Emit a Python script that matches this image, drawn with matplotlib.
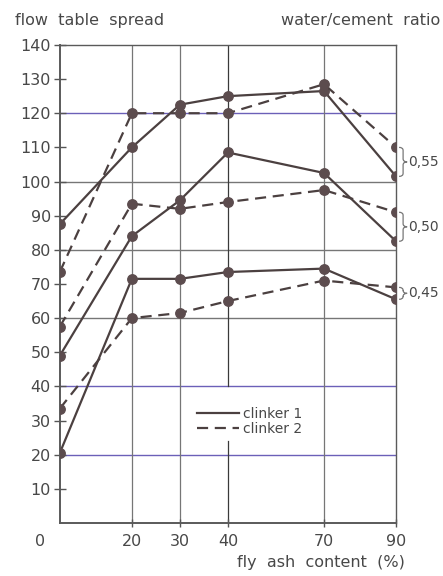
import numpy as np
import matplotlib
matplotlib.use("Agg")
import matplotlib.pyplot as plt
from matplotlib.path import Path
from matplotlib.patches import PathPatch
from matplotlib.transforms import blended_transform_factory

# fly ash content (%) and flow table spread values
fly_ash = [0, 20, 30, 40, 70, 90]
ratios = ["0,55", "0,50", "0,45"]
clinker1 = {
    "0,55": [87.5, 110, 122.5, 125, 126.5, 101.5],
    "0,50": [49, 84, 94.5, 108.5, 102.5, 82.5],
    "0,45": [20.5, 71.5, 71.5, 73.5, 74.5, 65.5],
}
clinker2 = {
    "0,55": [73.5, 120, 120, 120, 128.5, 110],
    "0,50": [57.5, 93.5, 92, 94, 97.5, 91],
    "0,45": [33.5, 60, 61.5, 65, 71, 69],
}
y_ticks = list(range(10, 150, 10))
x_ticks = [20, 30, 40, 70, 90]

# uneven horizontal spacing of the original drawing
ash_pos = [0, 3, 5, 7, 11, 14]


def fwd(x):
    return np.interp(x, fly_ash, ash_pos)


def inv(x):
    return np.interp(x, ash_pos, fly_ash)


LINE = "#4b4040"
MARK = "#5c4c4e"
GRID = "#767676"
PURPLE = "#6b60b8"
TXT = "#484848"
FS = 11.5

plt.rcParams["font.family"] = ["DejaVu Sans"]

fig = plt.figure(figsize=(4.43, 5.76), dpi=100)
ax = fig.add_axes([0.135, 0.092, 0.759, 0.830])
ax.set_xscale("function", functions=(fwd, inv))

for r in ratios:
    ax.plot(fly_ash, clinker1[r], "-", color=LINE, lw=1.6, marker="o",
            ms=6.8, mfc=MARK, mec=MARK, zorder=4)
    ax.plot(fly_ash, clinker2[r], "--", color=LINE, lw=1.6, marker="o",
            ms=6.8, mfc=MARK, mec=MARK, dashes=(5, 3), zorder=4)

ax.set_xlim(0, 90)
ax.set_ylim(0, 140)

# grid lines
for y in [20, 40, 60, 80, 100, 120]:
    col = PURPLE if y in (20, 40, 120) else GRID
    ax.axhline(y, color=col, lw=1.0, zorder=1)
for x in [20, 30, 70]:
    ax.axvline(x, color=GRID, lw=0.9, zorder=1)
# the 40 % line is interrupted by the legend
ax.plot([40, 40], [0, 24], color="#3a3a3a", lw=0.9, zorder=1)
ax.plot([40, 40], [40, 140], color="#3a3a3a", lw=0.9, zorder=1)

for s in ax.spines.values():
    s.set_color("#5a5a5a")
    s.set_linewidth(1.0)
ax.spines["left"].set_linewidth(1.4)
ax.spines["bottom"].set_linewidth(1.4)

ax.set_yticks(y_ticks)
ax.set_yticklabels([str(v) for v in y_ticks])
ax.set_xticks(x_ticks)
ax.set_xticklabels([str(v) for v in x_ticks])
ax.tick_params(axis="y", direction="inout", length=9, width=1.0,
               colors="#555555", labelcolor=TXT, labelsize=FS, pad=2)
ax.tick_params(axis="x", direction="inout", length=6, width=1.0,
               colors="#555555", labelcolor=TXT, labelsize=FS, pad=5)
ax.minorticks_off()
ax.annotate("0", xy=(0, 0), xytext=(-20, -18), textcoords="offset pixels",
            ha="center", va="center", fontsize=FS, color=TXT)

# braces with water/cement ratio labels
tr = blended_transform_factory(ax.transAxes, ax.transData)
for r in ratios:
    y0 = min(clinker1[r][-1], clinker2[r][-1])
    y1 = max(clinker1[r][-1], clinker2[r][-1])
    ym = (y0 + y1) / 2
    x0, w, d = 1.009, 0.024, 0.9
    verts = [(x0, y0), (x0 + w / 2, y0), (x0 + w / 2, y0 + d),
             (x0 + w / 2, ym - d),
             (x0 + w / 2, ym), (x0 + w, ym),
             (x0 + w / 2, ym), (x0 + w / 2, ym + d),
             (x0 + w / 2, y1 - d),
             (x0 + w / 2, y1), (x0, y1)]
    codes = [Path.MOVETO, Path.CURVE3, Path.CURVE3, Path.LINETO,
             Path.CURVE3, Path.CURVE3, Path.CURVE3, Path.CURVE3,
             Path.LINETO, Path.CURVE3, Path.CURVE3]
    ax.add_patch(PathPatch(Path(verts, codes), transform=tr, fill=False,
                           ec="#777777", lw=0.9, clip_on=False))
    ax.text(x0 + w + 0.004, ym, r, transform=tr, ha="left", va="center",
            fontsize=10, color=TXT)

# legend
h1, = ax.plot([], [], "-", color=LINE, lw=1.6)
h2, = ax.plot([], [], "--", color=LINE, lw=1.6, dashes=(5, 3))
leg = ax.legend([h1, h2], ["clinker 1", "clinker 2"], loc="center",
                bbox_to_anchor=(0.565, 0.213), frameon=True, fancybox=False,
                edgecolor="none", facecolor="white", framealpha=1,
                handlelength=3.0, handletextpad=0.3, labelspacing=0.05,
                fontsize=10, borderpad=0.2)
for t in leg.get_texts():
    t.set_color(TXT)

fig.text(0.034, 0.965, "flow  table  spread", ha="left", va="center",
         fontsize=FS, color=TXT)
fig.text(0.993, 0.965, "water/cement  ratio", ha="right", va="center",
         fontsize=FS, color=TXT)
fig.text(0.914, 0.024, "fly  ash  content  (%)", ha="right", va="center",
         fontsize=FS, color=TXT)

fig.savefig("out.png", dpi=100, facecolor="white")
